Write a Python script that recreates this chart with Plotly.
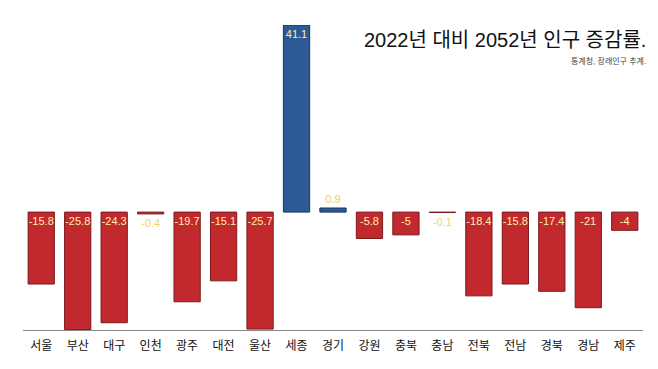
import plotly.graph_objects as go

categories = ["서울", "부산", "대구", "인천", "광주", "대전", "울산", "세종", "경기",
              "강원", "충북", "충남", "전북", "전남", "경북", "경남", "제주"]
values = [-15.8, -25.8, -24.3, -0.4, -19.7, -15.1, -25.7, 41.1, 0.9,
          -5.8, -5.0, -0.1, -18.4, -15.8, -17.4, -21.0, -4.0]
title_text = "2022년 대비 2052년 인구 증감률."
source_text = "통계청, 장래인구 추계."

neg_vals = [v if v < 0 else None for v in values]
pos_vals = [v if v >= 0 else None for v in values]

def fmt(v):
    if v is None:
        return ""
    return f"{v:g}"

FONT = "Liberation Sans, Helvetica, Arial, Noto Sans CJK KR, sans-serif"
LIGHT = "#fff0a8"
YELLOW = "#ecd25a"

fig = go.Figure()
fig.add_trace(go.Bar(
    x=categories, y=neg_vals, text=[fmt(v) for v in neg_vals],
    marker=dict(color="#c1292e", line=dict(color="#7a1a1d", width=1)),
    textposition="auto", insidetextanchor="start", textangle=0,
    constraintext="none", cliponaxis=False,
    insidetextfont=dict(color=LIGHT, size=11, family=FONT),
    outsidetextfont=dict(color="#f3d36b", size=11, family=FONT),
    hoverinfo="skip", showlegend=False,
))
fig.add_trace(go.Bar(
    x=categories, y=pos_vals, text=[fmt(v) for v in pos_vals],
    marker=dict(color="#2d5a95", line=dict(color="#1a3560", width=1)),
    textposition="auto", insidetextanchor="end", textangle=0,
    constraintext="none", cliponaxis=False,
    insidetextfont=dict(color=LIGHT, size=11, family=FONT),
    outsidetextfont=dict(color=YELLOW, size=11, family=FONT),
    hoverinfo="skip", showlegend=False,
))

fig.update_layout(
    width=650, height=361,
    barmode="relative", bargap=0.28,
    margin=dict(l=15, r=15, t=17, b=39),
    paper_bgcolor="white", plot_bgcolor="white",
    font=dict(family=FONT, color="#111"),
    xaxis=dict(showline=True, linecolor="#888", linewidth=1, showgrid=False,
               ticks="", ticklabelstandoff=5,
               tickfont=dict(size=12, color="#111"), fixedrange=True),
    yaxis=dict(range=[-25.9, 41.1], visible=False, showgrid=False,
               zeroline=False, fixedrange=True),
    annotations=[
        dict(text=title_text, xref="paper", yref="paper", x=1.008, y=0.951,
             xanchor="right", yanchor="middle", showarrow=False,
             font=dict(size=20, color="#111", family=FONT)),
        dict(text=source_text, xref="paper", yref="paper", x=1.008, y=0.882,
             xanchor="right", yanchor="middle", showarrow=False,
             font=dict(size=8, color="#444", family=FONT)),
    ],
)

fig.write_html("out.html")
